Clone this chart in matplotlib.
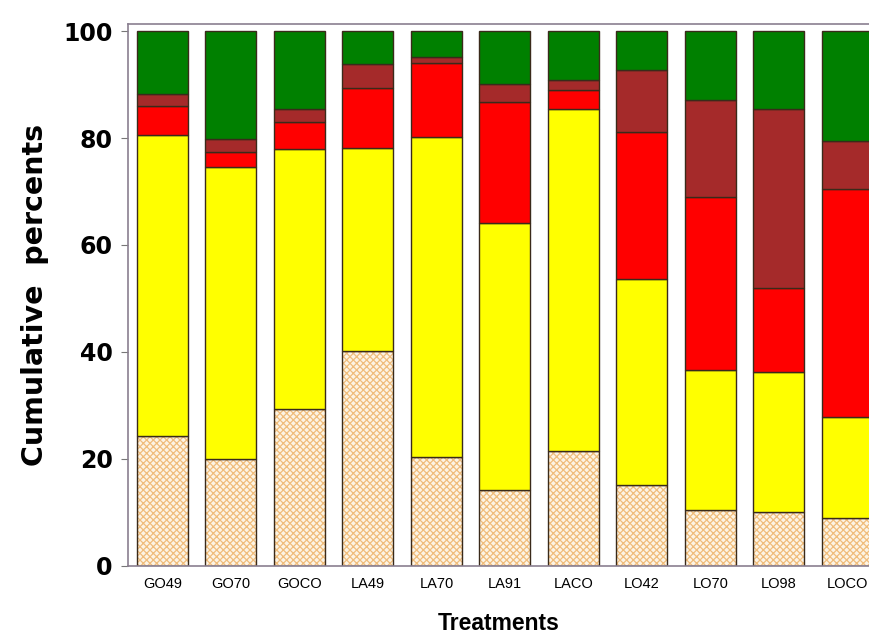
import numpy as np
import matplotlib.pyplot as plt

treatments = ['GO49', 'GO70', 'GOCO', 'LA49', 'LA70', 'LA91', 'LACO',
              'LO42', 'LO70', 'LO98', 'LOCO']

# cumulative tops of each stacked segment (percent)
hatched_top = [24.3, 20.0, 29.3, 40.2, 20.4, 14.2, 21.4, 15.1, 10.5, 10.1, 9.0]
yellow_top = [80.6, 74.6, 77.9, 78.1, 80.2, 64.1, 85.5, 53.6, 36.6, 36.3, 27.9]
red_top = [86.0, 77.3, 83.0, 89.3, 94.0, 86.8, 89.0, 81.2, 69.0, 51.9, 70.4]
brown_top = [88.2, 79.9, 85.5, 93.8, 95.2, 90.1, 90.8, 92.7, 87.1, 85.5, 79.4]
green_top = [100] * 11

plt.rcParams['hatch.linewidth'] = 0.9

fig = plt.figure(figsize=(8.7, 6.35), dpi=100)
ax = fig.add_axes([0.147, 0.109, 0.853, 0.853])

x = np.arange(len(treatments))
w = 0.745
tops = [hatched_top, yellow_top, red_top, brown_top, green_top]
colors = ['#fdf4e4', '#ffff00', '#ff0000', '#a52a2a', '#008000']
bottom = np.zeros(len(x))
for i, (top, c) in enumerate(zip(tops, colors)):
    top = np.array(top, dtype=float)
    if i == 0:
        # hatch takes the edge colour, so draw the hatch first, outline after
        ax.bar(x, top - bottom, w, bottom=bottom, color=c, edgecolor='#f0bd7c',
               linewidth=0, hatch='xxxxx')
        ax.bar(x, top - bottom, w, bottom=bottom, fill=False,
               edgecolor='#3a2a1a', linewidth=1.0)
    else:
        ax.bar(x, top - bottom, w, bottom=bottom, color=c,
               edgecolor='#3a2a1a', linewidth=1.0)
    bottom = top

ax.set_xlim(-0.504, 10.33)
ax.set_ylim(0, 101.3)
ax.set_yticks([0, 20, 40, 60, 80, 100])
ax.set_xticks(x)
ax.set_xticklabels(treatments, fontsize=10.5, family='Liberation Sans')
ax.tick_params(axis='x', length=0, pad=8)
ax.tick_params(axis='y', length=5, color='#777777', pad=6)
for lab in ax.get_yticklabels():
    lab.set_fontsize(17)
    lab.set_fontweight('bold')
    lab.set_family('DejaVu Sans')

for s in ax.spines.values():
    s.set_color('#8a7f90')
    s.set_linewidth(1.2)

ax.set_ylabel('Cumulative  percents', fontsize=20.5, fontweight='bold',
              family='DejaVu Sans', labelpad=10)
ax.set_xlabel('Treatments', fontsize=16.5, fontweight='bold',
              family='Liberation Sans', labelpad=15)

fig.savefig('out.png', dpi=100)
